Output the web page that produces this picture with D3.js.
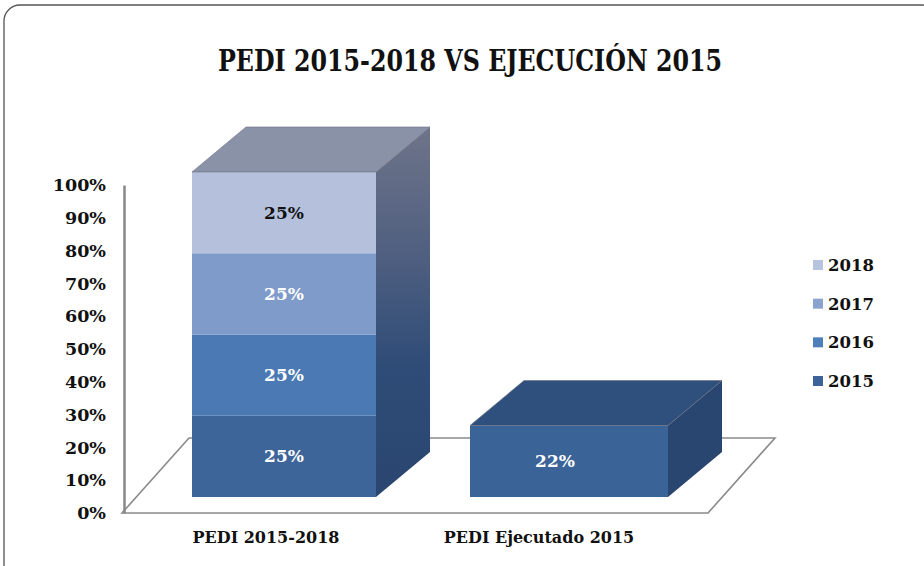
<!DOCTYPE html>
<html><head><meta charset="utf-8">
<script src="https://cdn.jsdelivr.net/npm/d3@7"></script>
<style>body{margin:0;background:#fff}svg{display:block}text{font-family:"DejaVu Serif",serif;font-weight:bold}</style>
</head><body><svg id="c" width="924" height="566"></svg>
<script>
const categories = ["PEDI 2015-2018", "PEDI Ejecutado 2015"];
const seriesNames = ["2015", "2016", "2017", "2018"];
const s2015 = [0.25, 0.22];
const s2016 = [0.25, 0];
const s2017 = [0.25, 0];
const s2018 = [0.25, 0];
const labels2015 = ["25%", "22%"];
const labels2016 = ["25%", ""];
const labels2017 = ["25%", ""];
const labels2018 = ["25%", ""];
const yTicks = [0, 0.1, 0.2, 0.3, 0.4, 0.5, 0.6, 0.7, 0.8, 0.9, 1.0];
const title = "PEDI 2015-2018 VS EJECUCIÓN 2015";

const seriesVals = [s2015, s2016, s2017, s2018];
const seriesLabels = [labels2015, labels2016, labels2017, labels2018];
const frontCol = ["#3e6599", "#4a79b4", "#7f9bc9", "#b5c1dc"];
const legendCol = ["#3d6398", "#4f7fba", "#8aa4cf", "#b6c4df"];
const labelCol = ["#fff", "#fff", "#fff", "#111"];

const svg = d3.select("#c");
const defs = svg.append("defs");
const gr = defs.append("linearGradient").attr("id", "side1").attr("x1", 0).attr("y1", 0).attr("x2", 0).attr("y2", 1);
gr.append("stop").attr("offset", "0%").attr("stop-color", "#6e7489");
gr.append("stop").attr("offset", "35%").attr("stop-color", "#4f5f80");
gr.append("stop").attr("offset", "65%").attr("stop-color", "#2e4c77");
gr.append("stop").attr("offset", "100%").attr("stop-color", "#2a4670");

svg.append("rect").attr("x", 4).attr("y", 5).attr("width", 935).attr("height", 620)
  .attr("rx", 16).attr("fill", "#fff").attr("stroke", "#555").attr("stroke-width", 1.3);

svg.append("text").attr("x", 470).attr("y", 71).attr("text-anchor", "middle")
  .attr("font-size", 30).attr("textLength", 504).attr("lengthAdjust", "spacingAndGlyphs")
  .attr("fill", "#111").text(title);

// scales
const yAxisScale = d3.scaleLinear().domain([0, 1]).range([513, 185]);
const yBar = d3.scaleLinear().domain([0, 1]).range([497, 172]);
const xc = d3.scalePoint().domain(categories).range([284, 569]);
const barWs = [184, 198], dx = 54, dy = -45;

// floor
const fl = [[122, 513], [708, 513], [775, 438], [189, 438]];
svg.append("path").attr("d", "M" + fl.map(p => p.join(",")).join("L") + "Z")
  .attr("fill", "#fff").attr("stroke", "#8a8a8a").attr("stroke-width", 1.6);

// y axis
const ax = svg.append("g").attr("transform", "translate(124,0)")
  .call(d3.axisLeft(yAxisScale).tickValues(yTicks).tickFormat(d3.format(".0%")).tickSize(0).tickPadding(18));
ax.select(".domain").attr("stroke", "#888").attr("stroke-width", 2.5);
ax.selectAll("text").attr("font-size", 17.5).attr("fill", "#111").attr("font-family", "DejaVu Serif").attr("font-weight", "bold");

// bars
categories.forEach((cat, ci) => {
  const barW = barWs[ci];
  const x0 = xc(cat) - barW / 2, x1 = x0 + barW;
  const total = seriesVals.reduce((a, s) => a + s[ci], 0);
  const yb0 = yBar(0), ytT = yBar(total);
  svg.append("path").attr("d", `M${x1},${yb0}L${x1 + dx},${yb0 + dy}L${x1 + dx},${ytT + dy}L${x1},${ytT}Z`)
    .attr("fill", ci === 1 ? "#294670" : "url(#side1)");
  let acc = 0;
  seriesVals.forEach((sv, si) => {
    const v = sv[ci];
    if (!v) return;
    const yb = yBar(acc), yt = yBar(acc + v);
    acc += v;
    svg.append("rect").attr("x", x0).attr("y", yt).attr("width", barW).attr("height", yb - yt)
      .attr("fill", ci === 1 ? "#3a6397" : frontCol[si]);
    svg.append("text").attr("x", x0 + barW / 2 - (ci === 1 ? 14 : 0)).attr("y", (yt + yb) / 2 + 6)
      .attr("text-anchor", "middle").attr("font-size", 17).attr("fill", labelCol[si])
      .text(seriesLabels[si][ci]);
  });
  svg.append("path").attr("d", `M${x0},${ytT}L${x0 + dx},${ytT + dy}L${x1 + dx},${ytT + dy}L${x1},${ytT}Z`)
    .attr("fill", ci === 1 ? "#2f4f7c" : "#8a92a8").attr("stroke", "#6a6f7e").attr("stroke-width", 0.6);
  svg.append("text").attr("x", xc(cat) - 18 + (ci === 1 ? -12 : 0)).attr("y", 543).attr("text-anchor", "middle")
    .attr("font-size", 16).attr("fill", "#111").text(cat);
});

// legend
const ly = d3.scalePoint().domain(seriesNames.slice().reverse()).range([265, 381]);
seriesNames.forEach((n, i) => {
  svg.append("rect").attr("x", 813).attr("y", ly(n) - 5).attr("width", 10).attr("height", 10).attr("fill", legendCol[i]);
  svg.append("text").attr("x", 828).attr("y", ly(n) + 6).attr("font-size", 16.5).attr("fill", "#111").text(n);
});
</script></body></html>
